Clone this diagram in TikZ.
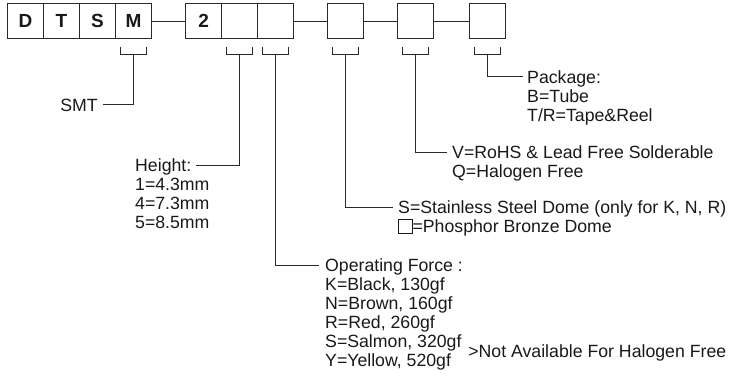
\documentclass[tikz,border=0pt]{standalone}
\usepackage{fontspec}
\setmainfont{Liberation Sans}
\usetikzlibrary{positioning}
\definecolor{ink}{RGB}{25, 25, 25}
\definecolor{wireC}{RGB}{40, 40, 45}
% small empty square used inside a label
\newcommand{\blankbox}{{\setlength{\fboxsep}{0pt}\setlength{\fboxrule}{0.7pt}\fbox{\rule{0pt}{12.5pt}\hspace{13pt}}}}

\tikzset{
  cell/.style={draw=wireC, line width=1.1pt, minimum width=36pt, minimum height=35pt,
    inner sep=0pt, anchor=north west, text=ink, font=\bfseries\fontsize{19}{20}\selectfont},
  lbl/.style={align=left, inner sep=0pt, text=ink, font=\fontsize{17.7}{19}\selectfont},
  wire/.style={draw=wireC, line width=1pt},
}

\begin{document}
\begin{tikzpicture}[x=1pt, y=-1pt]
  \useasboundingbox (0,0) rectangle (733,377);

  % Part number cells
  \foreach \name/\x/\t in {cD/7/D, cT/43/T, cS/79/S, cM/115/M, c2/185/2,
                           cH/221/, cF/257/, cC/327/, cR/397/, cP/469/} {
    \node[cell] (\name) at (\x,3) {\t};
  }
  % Links between groups
  \draw[wire] (cM) -- (c2);
  \draw[wire] (cF) -- (cC);
  \draw[wire] (cC) -- (cR);
  \draw[wire] (cR) -- (cP);

  % Brackets below the coded cells
  \foreach \name in {M, H, F, C, R, P} {
    \coordinate (b\name) at ([yshift=-15pt]c\name.south);
    \draw[wire] ([shift={(-13pt,7pt)}]b\name) -- ([xshift=-13pt]b\name)
      -- ([xshift=13pt]b\name) -- ([shift={(13pt,7pt)}]b\name);
  }

  % Knees of the callout lines
  \coordinate (kM) at (103,105);
  \coordinate (kH) at (196,165);
  \coordinate (kF) at (319,265);
  \coordinate (kC) at (393,207);
  \coordinate (kR) at (447,152);
  \coordinate (kP) at (523,77);

  % Labels
  \node[lbl, left=5pt of kM] (smt) {SMT};
  \node[lbl, anchor=north west] (height) at (135,158.5)
    {Height:\\1=4.3mm\\4=7.3mm\\5=8.5mm};
  \node[lbl, anchor=north west] (force) at ([shift={(6pt,6.5pt)}]kF)
    {Operating Force :\\K=Black, 130gf\\N=Brown, 160gf\\R=Red, 260gf\\S=Salmon, 320gf\\Y=Yellow, 520gf};
  \node[lbl, anchor=west] (nahf) at ([shift={(5pt,17pt)}]force.south east)
    {>Not Available For Halogen Free};
  \node[lbl, anchor=north west] (dome) at ([shift={(5pt,6.5pt)}]kC)
    {S=Stainless Steel Dome (only for K, N, R)\\\blankbox=Phosphor Bronze Dome};
  \node[lbl, anchor=north west] (rohs) at ([shift={(5pt,6.5pt)}]kR)
    {V=RoHS \& Lead Free Solderable\\Q=Halogen Free};
  \node[lbl, anchor=north west] (pkg) at ([shift={(4pt,6.5pt)}]kP)
    {Package:\\B=Tube\\T/R=Tape\&Reel};

  % Callout lines
  \draw[wire] (bM) |- (kM);
  \draw[wire] (bH) |- (kH);
  \draw[wire] (bF) |- (kF);
  \draw[wire] (bC) |- (kC);
  \draw[wire] (bR) |- (kR);
  \draw[wire] (bP) |- (kP);
\end{tikzpicture}
\end{document}
